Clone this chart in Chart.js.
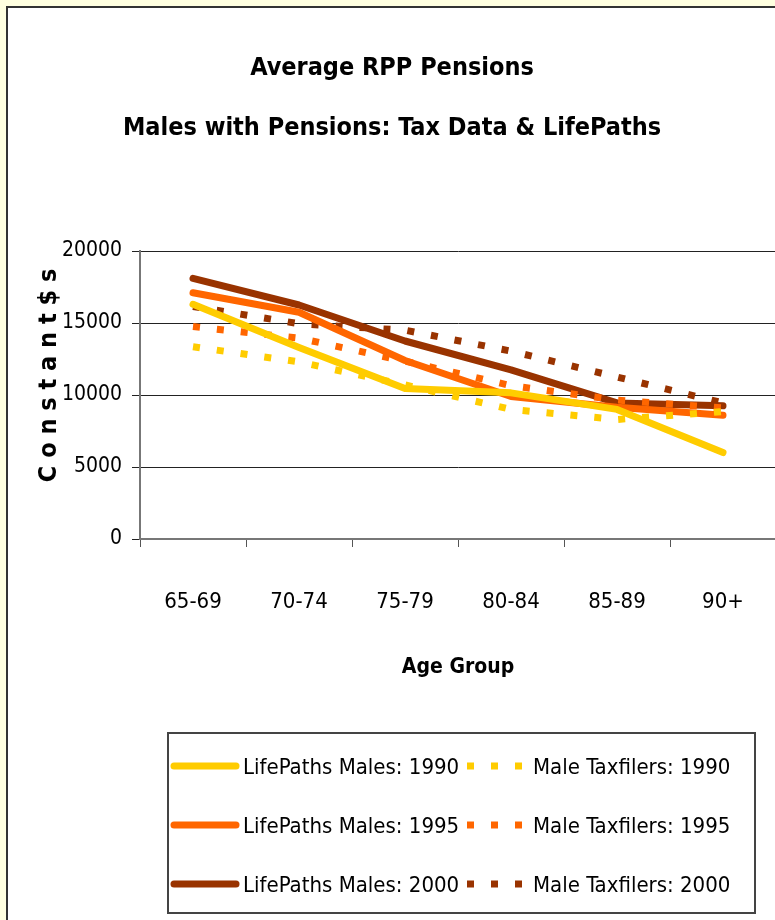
<!DOCTYPE html>
<html>
<head>
<meta charset="utf-8">
<title>Average RPP Pensions</title>
<script src="https://cdn.jsdelivr.net/npm/chart.js@4.4.1/dist/chart.umd.min.js"></script>
<style>
  html, body { margin: 0; padding: 0; overflow: hidden; background: #FFFFE0; }
  #frame {
    position: absolute; left: 6px; top: 6px;
    width: 900px; height: 1000px;
    background: #fff;
    border-left: 2px solid #333; border-top: 2px solid #333;
  }
  #box { position: absolute; left: 0; top: 0; width: 782px; height: 912px; }
</style>
</head>
<body>
<div id="frame"><div id="box"><canvas id="myChart"></canvas></div></div>
<script>
var ageGroups = ['65-69', '70-74', '75-79', '80-84', '85-89', '90+'];
var lifePaths1990 = [16300, 13300, 10450, 10150, 9000, 6000];
var taxfilers1990 = [13350, 12300, 10700, 9000, 8300, 8850];
var lifePaths1995 = [17100, 15750, 12400, 9900, 9150, 8600];
var taxfilers1995 = [14750, 13950, 12350, 10650, 9650, 9100];
var lifePaths2000 = [18100, 16250, 13750, 11750, 9450, 9250];
var taxfilers2000 = [16150, 14950, 14500, 13050, 11250, 9450];
var yTicks = [0, 5000, 10000, 15000, 20000];

var fontFamily = "'Liberation Sans Narrow', 'Arial Narrow', 'DejaVu Sans Condensed', sans-serif";
Chart.defaults.font.family = fontFamily;
Chart.defaults.color = '#000';

function solid(label, color, values) {
  return {
    label: label, data: values, borderColor: color, backgroundColor: color,
    borderWidth: 7, borderCapStyle: 'round', borderJoinStyle: 'round',
    pointRadius: 0, tension: 0
  };
}
function dotted(label, color, values) {
  return {
    label: label, data: values, borderColor: color, backgroundColor: color,
    borderWidth: 7, borderDash: [7, 17], borderCapStyle: 'butt',
    pointRadius: 0, tension: 0
  };
}

// legend with a frame, two columns
var boxLegend = {
  id: 'boxLegend',
  afterDraw: function(chart) {
    var ctx = chart.ctx;
    ctx.save();
    ctx.strokeStyle = '#444';
    ctx.lineWidth = 2;
    ctx.strokeRect(160, 725, 587, 180);
    ctx.font = '22px ' + fontFamily;
    ctx.textBaseline = 'middle';
    chart.data.datasets.forEach(function(ds, i) {
      var row = Math.floor(i / 2);
      var col = i % 2;
      var y = 758 + row * 59;
      var x0 = col ? 459 : 166;
      ctx.beginPath();
      ctx.strokeStyle = ds.borderColor;
      ctx.lineWidth = ds.borderWidth;
      ctx.lineCap = ds.borderCapStyle;
      ctx.setLineDash(ds.borderDash || []);
      ctx.moveTo(x0, y);
      ctx.lineTo(x0 + 62, y);
      ctx.stroke();
      ctx.setLineDash([]);
      ctx.fillStyle = '#000';
      ctx.fillText(ds.label, col ? 525 : 235, y + 2);
    });
    ctx.restore();
  }
};

var ctx = document.getElementById('myChart').getContext('2d');
var myChart = new Chart(ctx, {
  type: 'line',
  data: {
    labels: ageGroups,
    datasets: [
      solid('LifePaths Males: 1990', '#FFCC00', lifePaths1990),
      dotted('Male Taxfilers: 1990', '#FFCC00', taxfilers1990),
      solid('LifePaths Males: 1995', '#FF6600', lifePaths1995),
      dotted('Male Taxfilers: 1995', '#FF6600', taxfilers1995),
      solid('LifePaths Males: 2000', '#993300', lifePaths2000),
      dotted('Male Taxfilers: 2000', '#993300', taxfilers2000)
    ]
  },
  options: {
    responsive: true,
    maintainAspectRatio: false,
    animation: false,
    layout: { padding: { left: 0, right: 14, top: 0, bottom: 231 } },
    plugins: {
      legend: { display: false },
      tooltip: { enabled: false },
      title: {
        display: true,
        text: ['Average RPP Pensions', 'Males with Pensions: Tax Data & LifePaths'],
        font: { size: 25, weight: 'bold', lineHeight: 60 / 25 },
        color: '#000',
        padding: { top: 30, bottom: 93 }
      }
    },
    scales: {
      x: {
        offset: true,
        grid: { offset: true, drawOnChartArea: false, drawTicks: true, tickLength: 8, color: '#555' },
        border: { color: '#777', width: 2 },
        ticks: { font: { size: 22 }, padding: 42, maxRotation: 0 },
        title: { display: true, text: 'Age Group', font: { size: 21, weight: 'bold' }, padding: { top: 0, bottom: 9 } },
        afterFit: function(scale) { scale.height = 150; }
      },
      y: {
        min: 0,
        max: 20000,
        afterBuildTicks: function(scale) {
          scale.ticks = yTicks.map(function(v) { return { value: v }; });
        },
        grid: { color: '#222', lineWidth: 1, tickLength: 8 },
        border: { color: '#777', width: 2 },
        ticks: {
          font: { size: 21 }, padding: 10,
          callback: function(value) { return String(value); }
        },
        title: {
          display: true,
          text: '     C o n s t a n t $ s',
          font: { size: 25, weight: 'bold' },
          padding: { top: 26, bottom: 0 }
        },
        afterFit: function(scale) { scale.width = 132; }
      }
    }
  },
  plugins: [boxLegend]
});
</script>
</body>
</html>
